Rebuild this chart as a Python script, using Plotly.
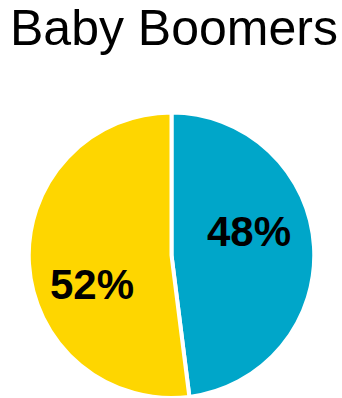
import plotly.graph_objects as go

# Generation share data
labels = ["Blue segment", "Yellow segment"]
values = [48, 52]
colors = ["#00A6C9", "#FED600"]
title_text = "Baby Boomers"

W, H = 342, 398

fig = go.Figure(
    go.Pie(
        labels=labels,
        values=values,
        sort=False,
        direction="clockwise",
        rotation=0,
        textinfo="none",
        hoverinfo="label+percent",
        marker=dict(colors=colors, line=dict(color="white", width=4)),
        domain=dict(x=[28.5 / W, 314.5 / W], y=[0, (H - 112.5) / H]),
        showlegend=False,
    )
)

# Percentage labels placed over each slice
label_pos = [(249, 231), (92, 284)]
for v, (px, py) in zip(values, label_pos):
    fig.add_annotation(
        text=f"{v}%",
        x=px / W, y=1 - py / H,
        xref="paper", yref="paper",
        xanchor="center", yanchor="middle",
        showarrow=False,
        font=dict(family="Liberation Sans, Arial, sans-serif", size=42, color="black", weight="bold"),
    )

fig.add_annotation(
    text=title_text,
    x=174.5 / W, y=1 - 28 / H,
    xref="paper", yref="paper",
    xanchor="center", yanchor="middle",
    showarrow=False,
    borderpad=0,
    font=dict(family="Liberation Sans, Arial, sans-serif", size=50, color="black"),
)

fig.update_layout(
    width=W, height=H,
    margin=dict(l=0, r=0, t=0, b=0),
    paper_bgcolor="white",
    plot_bgcolor="white",
)

fig.write_html("out.html")
